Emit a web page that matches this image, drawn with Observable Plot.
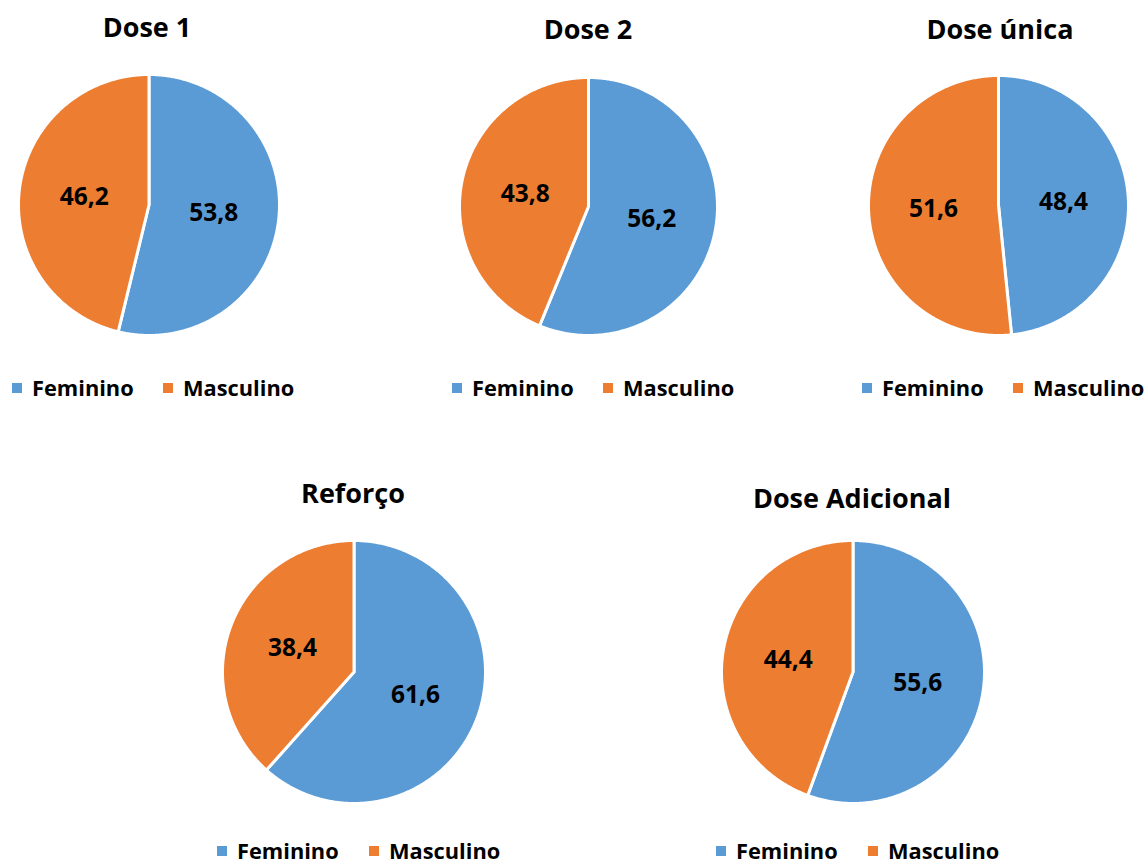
<!DOCTYPE html>
<html>
<head>
<meta charset="utf-8">
<script src="https://cdn.jsdelivr.net/npm/d3@7"></script>
<script src="https://cdn.jsdelivr.net/npm/@observablehq/plot@0.6"></script>
<style>
  html, body { margin: 0; padding: 0; background: #fff; }
  #page { position: relative; width: 1147px; height: 866px; overflow: hidden; background: #fff; font-family: "Open Sans", sans-serif; }
  .pie { position: absolute; }
  #overlay { position: absolute; left: 0; top: 0; }
</style>
</head>
<body>
<div id="page"></div>
<script>
// ---- data ----
const doses = ["Dose 1", "Dose 2", "Dose única", "Reforço", "Dose Adicional"];
const feminino = [53.8, 56.2, 48.4, 61.6, 55.6];
const masculino = [46.2, 43.8, 51.6, 38.4, 44.4];
const sexes = ["Feminino", "Masculino"];
const colors = ["#5B9BD5", "#ED7D31"];

// ---- layout (pixel placement of each small chart) ----
const layout = [
  {cx: 148,   cy: 204,   r: 129,   titleX: 147, titleBase: 37,  legX: [12, 163],  legTop: 383},
  {cx: 588,   cy: 206,   r: 127.5, titleX: 588, titleBase: 39,  legX: [452, 603], legTop: 383},
  {cx: 997.5, cy: 205,   r: 128.5, titleX: 1000, titleBase: 39, legX: [862, 1013], legTop: 383},
  {cx: 353,   cy: 671.5, r: 130,   titleX: 353, titleBase: 503, legX: [217, 369], legTop: 846},
  {cx: 852,   cy: 671.5, r: 130,   titleX: 852, titleBase: 508, legX: [716, 868], legTop: 846}
];

const FONT = "'Open Sans', sans-serif";
const SW = 3; // white separator width
const page = document.getElementById("page");

function fmt(v) { return v.toFixed(1).replace(".", ","); }

doses.forEach((dose, i) => {
  const vals = [feminino[i], masculino[i]];
  const total = d3.sum(vals);
  const slices = [];
  const labels = [];
  let acc = 0;
  vals.forEach((v, k) => {
    const s = acc / total, e = (acc + v) / total;
    acc += v;
    const n = Math.max(2, Math.ceil((e - s) * 720));
    slices.push({key: sexes[k], sex: sexes[k], x: 0, y: 0});
    for (let j = 0; j <= n; j++) {
      const t = s + (e - s) * j / n;
      slices.push({key: sexes[k], sex: sexes[k], x: Math.sin(2 * Math.PI * t), y: Math.cos(2 * Math.PI * t)});
    }
    slices.push({key: sexes[k], sex: sexes[k], x: 0, y: 0});
    const m = (s + e) / 2;
    labels.push({x: 0.5 * Math.sin(2 * Math.PI * m), y: 0.5 * Math.cos(2 * Math.PI * m), text: fmt(v)});
  });

  const L = layout[i];
  const R = L.r + SW / 2;
  const M = 4;
  const size = 2 * R + 2 * M;
  const chart = Plot.plot({
    width: size,
    height: size,
    margin: M,
    x: {domain: [-1, 1], axis: null},
    y: {domain: [-1, 1], axis: null},
    color: {domain: sexes, range: colors},
    style: {background: "transparent", overflow: "visible"},
    marks: [
      Plot.line(slices, {x: "x", y: "y", z: "key", fill: "sex", stroke: "white", strokeWidth: SW, strokeLinejoin: "round", curve: "linear"}),
      Plot.text(labels, {x: "x", y: "y", text: "text", fontSize: 24.5, fontWeight: "bold", fill: "black", fontFamily: FONT})
    ]
  });
  chart.classList.add("pie");
  chart.style.left = (L.cx - size / 2) + "px";
  chart.style.top = (L.cy - size / 2) + "px";
  page.appendChild(chart);
});

// ---- titles and legends ----
const svg = d3.select(page).append("svg").attr("id", "overlay").attr("width", 1147).attr("height", 866);
doses.forEach((dose, i) => {
  const L = layout[i];
  svg.append("text").attr("x", L.titleX).attr("y", L.titleBase).attr("text-anchor", "middle")
    .attr("font-family", FONT).attr("font-weight", "bold").attr("font-size", 27).attr("fill", "#000").text(dose);
  sexes.forEach((s, k) => {
    svg.append("rect").attr("x", L.legX[k]).attr("y", L.legTop).attr("width", 10).attr("height", 10).attr("fill", colors[k]);
    svg.append("text").attr("x", L.legX[k] + 20).attr("y", L.legTop + 13).attr("font-family", FONT)
      .attr("font-weight", "bold").attr("font-size", 21.8).attr("fill", "#000").text(s);
  });
});
</script>
</body>
</html>
